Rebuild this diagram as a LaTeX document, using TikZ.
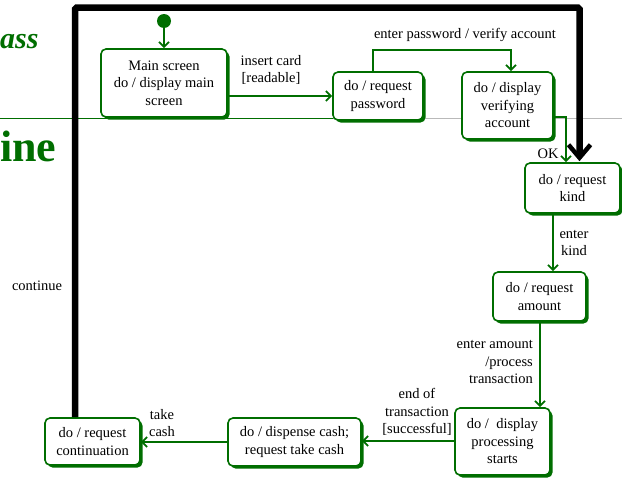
\documentclass[tikz,border=0pt]{standalone}
\usepackage{fontspec}
\setmainfont{Liberation Serif}
\usetikzlibrary{arrows.meta,shadows}
\definecolor{umlgreen}{RGB}{0,110,0}
\begin{document}
\begin{tikzpicture}[x=1pt,y=-1pt,
  txt/.style={font=\fontsize{14.5}{17.5}\selectfont},
  state/.style={txt, draw=umlgreen, line width=1.6pt, rounded corners=5pt,
    fill=white, align=center, inner sep=0pt,
    drop shadow={shadow xshift=2.5pt, shadow yshift=-2.5pt, fill=umlgreen, opacity=1}},
  trans/.style={draw=umlgreen, line width=1.8pt,
    -{Straight Barb[length=5pt,width=10pt]}},
  lbl/.style={txt, align=center, inner sep=0pt},
  flow/.style={line width=6.5pt, rounded corners=1.5pt,
    -{Straight Barb[length=13pt,width=22pt,line width=4.5pt]}}]
\useasboundingbox (0,0) rectangle (622,479);

% slide background: title fragments and the divider line
\node[anchor=base west, inner sep=0pt, text=umlgreen,
  font=\fontsize{30}{30}\selectfont\bfseries\itshape] (title1) at (0,48) {ass};
\node[anchor=base west, inner sep=0pt, text=umlgreen,
  font=\fontsize{44}{44}\selectfont\bfseries] (title2) at (0,161) {ine};
\coordinate (d0) at (0,118);
\coordinate (d1) at (333,118);
\coordinate (d2) at (622,118);
\draw[umlgreen, line width=1pt] (d0) -- (d1);
\draw[gray!55, line width=0.8pt] (d1) -- (d2);

% states
\node[circle, fill=umlgreen, minimum size=14pt, inner sep=0pt] (init) at (164,21) {};
\node[state, minimum width=126pt, minimum height=68pt] (main) at (164,83)
  {Main screen\\do / display main\\screen};
\node[state, minimum width=90pt, minimum height=48pt] (pass) at (378,96)
  {do / request\\password};
\node[state, minimum width=91pt, minimum height=67pt] (verify) at (507.5,105.5)
  {do / display\\verifying\\account};
\node[state, minimum width=95pt, minimum height=50pt] (kind) at (572.5,188)
  {do / request\\kind};
\node[state, minimum width=93pt, minimum height=49pt] (amount) at (539.5,296.5)
  {do / request\\amount};
\node[state, minimum width=95pt, minimum height=67pt] (proc) at (502.5,441.5)
  {do /\ \ display\\processing\\starts};
\node[state, minimum width=133pt, minimum height=48pt] (disp) at (294.5,442)
  {do / dispense cash;\\request take cash};
\node[state, minimum width=95pt, minimum height=47pt] (cont) at (92.5,441.5)
  {do / request\\continuation};

% transitions
\draw[trans] (init) -- (main);
\draw[trans] (main.east |- pass.west) -- (pass.west);
\node[lbl] (l1) at (271,70) {insert card\\{}[readable]};
\draw[trans] ([xshift=-5pt]pass.north) -- ++(0,-21) -| ([xshift=3.5pt]verify.north);
\node[lbl] (l2) at (465,35) {enter password / verify account};
\draw[trans] ([yshift=-11.5pt]verify.east) -| ([xshift=-6.5pt]kind.north);
\node[lbl] (l3) at (548,154) {OK};
\draw[flow] ([xshift=-17.5pt]cont.north) -- ++(0,-409.5) -| ([xshift=7pt,yshift=1pt]kind.north);
\node[lbl] (l4) at (37,286) {continue};
\draw[trans] ([xshift=-19.5pt]kind.south) -- ([xshift=-19.5pt]kind.south |- amount.north);
\node[lbl] (l5) at (574,243) {enter\\kind};
\draw[trans] ([xshift=0.5pt]amount.south) -- ([xshift=0.5pt]amount.south |- proc.north);
\node[lbl, align=right, anchor=east] (l6) at (533,362) {enter amount\\/process\\transaction};
\draw[trans] ([yshift=0.5pt]proc.west) -- ([yshift=0.5pt]proc.west -| disp.east);
\node[lbl] (l7) at (417,412) {end of\\transaction\\{}[successful]};
\draw[trans] (disp.west) -- (disp.west -| cont.east);
\node[lbl] (l8) at (162,423) {take\\cash};
\end{tikzpicture}
\end{document}
